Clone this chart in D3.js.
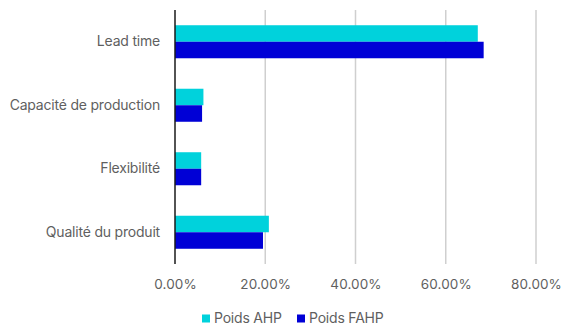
<!DOCTYPE html>
<html>
<head>
<meta charset="utf-8">
<script src="https://cdn.jsdelivr.net/npm/d3@7"></script>
<style>
  html, body { margin: 0; padding: 0; background: #fff; }
  svg text { font-family: Inter, "Liberation Sans", sans-serif; fill: #5f5f5f; }
</style>
</head>
<body>
<svg id="chart" width="561" height="327"></svg>
<script>
const categories = ["Lead time", "Capacité de production", "Flexibilité", "Qualité du produit"];
const seriesNames = ["Poids AHP", "Poids FAHP"];
const poidsAHP = [0.671, 0.063, 0.058, 0.208];
const poidsFAHP = [0.684, 0.060, 0.058, 0.195];
const xTicks = [0, 0.2, 0.4, 0.6, 0.8];
const colors = ["#00D2DC", "#0000D6"];

const svg = d3.select("#chart");
const margin = { left: 175, right: 25, top: 10, bottom: 63 };
const W = 561, H = 327;

const x = d3.scaleLinear().domain([0, 0.8]).range([margin.left, 536]);
const y = d3.scaleBand().domain(categories).range([margin.top, H - margin.bottom]).paddingInner(0.48).paddingOuter(0.24);
const ySub = d3.scaleBand().domain(seriesNames).range([0, y.bandwidth()]);

// vertical gridlines
svg.append("g")
  .selectAll("line")
  .data(xTicks.slice(1))
  .join("line")
  .attr("x1", d => x(d)).attr("x2", d => x(d))
  .attr("y1", margin.top).attr("y2", H - margin.bottom)
  .attr("stroke", "#cfcfcf").attr("stroke-width", 1.5);

// bars
const data = categories.map((c, i) => ({ c, vals: [poidsAHP[i], poidsFAHP[i]] }));
const groups = svg.append("g").selectAll("g")
  .data(data).join("g")
  .attr("transform", d => `translate(0,${y(d.c)})`);
groups.selectAll("rect")
  .data(d => d.vals.map((v, j) => ({ v, s: seriesNames[j], j })))
  .join("rect")
  .attr("x", x(0))
  .attr("y", d => ySub(d.s))
  .attr("width", d => x(d.v) - x(0))
  .attr("height", ySub.bandwidth())
  .attr("fill", d => colors[d.j]);

// category axis
const yAxis = svg.append("g")
  .attr("transform", `translate(${x(0)},0)`)
  .call(d3.axisLeft(y).tickSize(0).tickPadding(15));
yAxis.select(".domain").attr("stroke", "#1a1a1a").attr("stroke-width", 1.5)
  .attr("d", `M0,${margin.top}V${H - margin.bottom}`);
yAxis.selectAll("text").attr("font-size", 14).style("letter-spacing", "-0.2px");

// value axis labels
const xAxis = svg.append("g")
  .attr("transform", `translate(0,${H - margin.bottom})`)
  .call(d3.axisBottom(x).tickValues(xTicks).tickFormat(d3.format(".2%")).tickSize(0).tickPadding(15));
xAxis.select(".domain").remove();
xAxis.selectAll("text").attr("font-size", 13.5).style("letter-spacing", "0.1px");

// legend
const legendItems = [{ name: seriesNames[0], x: 202 }, { name: seriesNames[1], x: 297 }];
const lg = svg.append("g").selectAll("g").data(legendItems).join("g")
  .attr("transform", d => `translate(${d.x},318.5)`);
lg.append("rect").attr("x", 0).attr("y", -4).attr("width", 8).attr("height", 8)
  .attr("fill", (d, i) => colors[i]);
lg.append("text").attr("x", 12).attr("y", 0).attr("dy", "0.35em")
  .attr("font-size", 14).style("letter-spacing", "-0.2px")
  .text(d => d.name);
</script>
</body>
</html>
